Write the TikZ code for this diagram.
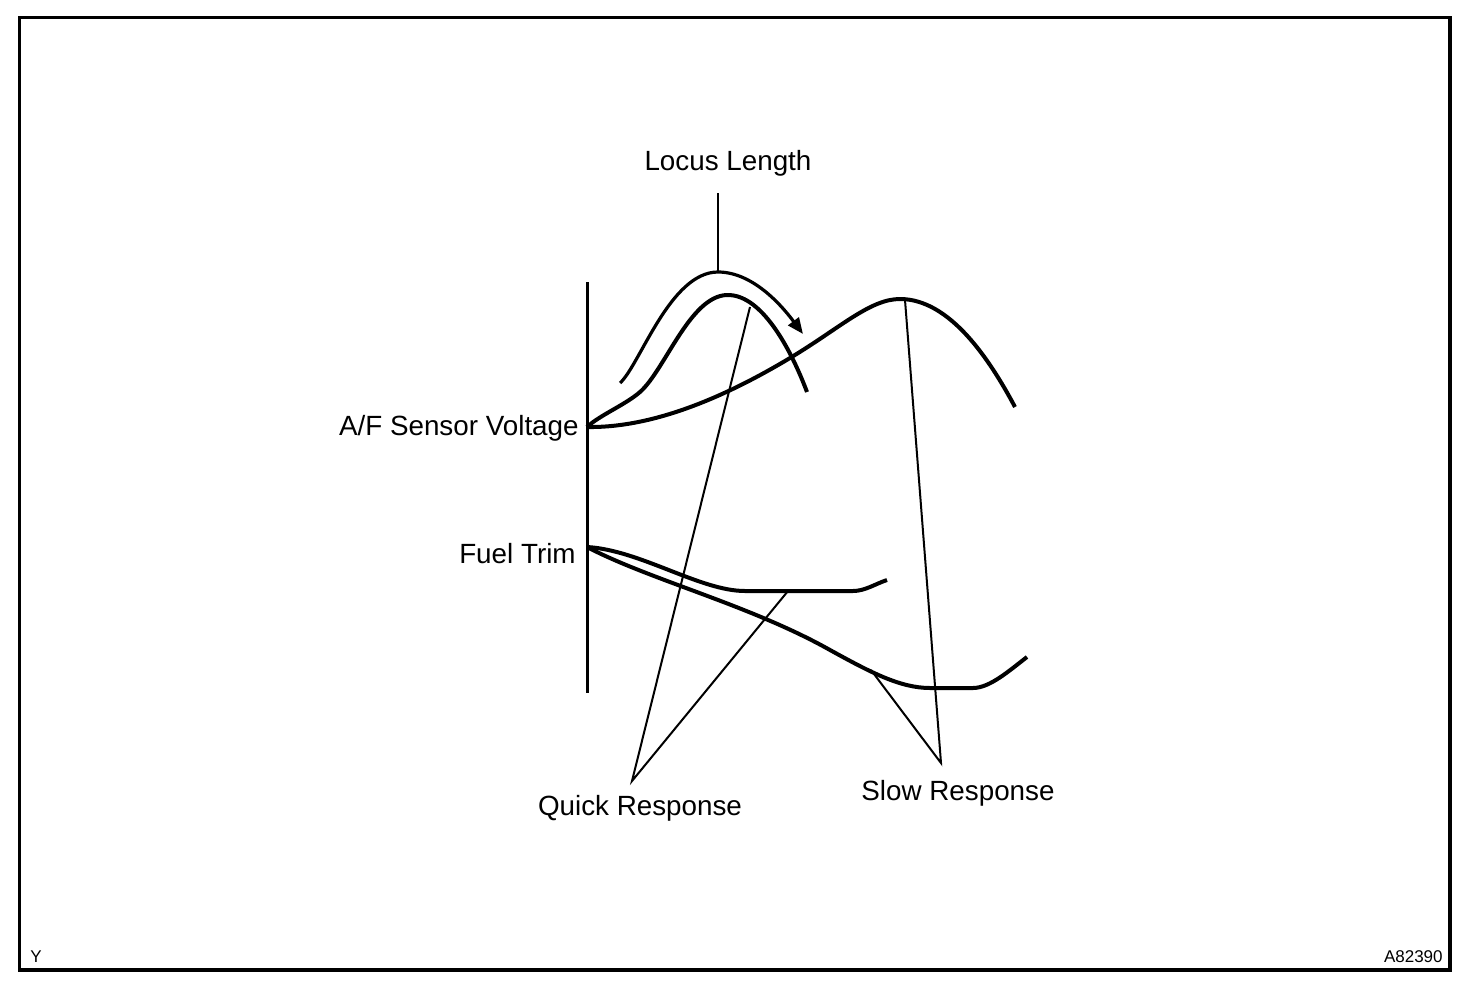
\documentclass[tikz,border=0pt]{standalone}
\usepackage{fontspec}
\setmainfont{Liberation Sans}
\usepackage{tikz}
\usetikzlibrary{positioning}
\usetikzlibrary{arrows.meta}
\usetikzlibrary{calc}

\begin{document}
\begin{tikzpicture}[x=0.5pt,y=-0.5pt,
  trace/.style={line width=2pt, line join=round},
  leader/.style={line width=1pt},
  lbl/.style={font=\fontsize{13.9}{16}\selectfont, inner sep=0pt},
  tag/.style={font=\fontsize{8.5}{10}\selectfont, inner sep=0pt}]

\useasboundingbox (0,0) rectangle (1472,980);
\draw[line width=1.6pt] (19.5,17.5) rectangle (1450,970);

% axis
\coordinate (top) at (587,282);
\coordinate (bot) at (587,693);
\draw[line width=1.5pt] (top) -- (bot);

% labels
\node[lbl, anchor=base] (locus) at (728,170) {Locus Length};
\node[lbl, anchor=base east] (afv) at (579,435) {A/F Sensor Voltage};
\node[lbl, anchor=base east] (trim) at (576,563) {Fuel Trim};
\node[lbl, anchor=base] (quick) at (640,815) {Quick Response};
\node[lbl, anchor=base] (slow) at (958,800) {Slow Response};

\node[tag, anchor=base] (y) at (36,962) {Y};
\node[tag, anchor=base east] (code) at (1443,962) {A82390};

% A/F sensor voltage
\coordinate (af0) at (587,427);
\draw[trace] (af0) .. controls (650,428) and (720,400) .. (790,358)
  .. controls (840,328) and (870,299) .. (900,299)
  .. controls (950,299) and (990,360) .. (1015,407);
\draw[trace] (af0) .. controls (600,415) and (625,405) .. (640,392)
  .. controls (665,370) and (690,296) .. (727,295)
  .. controls (765,294) and (795,360) .. (807,392);

% locus length arrow
\coordinate (tick) at (718,193);
\coordinate (arc) at (718,272);
\draw[line width=1.3pt] (tick) -- (arc);
\draw[line width=1.6pt, -{Triangle[length=8pt,width=6.5pt]}] (620,383)
  .. controls (640,365) and (670,272) .. (arc)
  .. controls (755,272) and (785,310) .. (803,334);

% fuel trim
\coordinate (ft0) at (587,547);
\draw[trace] (ft0) .. controls (640,550) and (700,591) .. (745,591) -- (853,591)
  .. controls (865,591) and (875,584) .. (887,580);
\draw[trace] (ft0) .. controls (650,580) and (750,605) .. (830,650)
  .. controls (870,672) and (900,688) .. (930,688) -- (973,688)
  .. controls (990,688) and (1010,670) .. (1027,657);

% leaders
\coordinate (qa) at (632,781);
\coordinate (sa) at (941,763);
\coordinate (qv) at (750,307);
\coordinate (qf) at (788,591);
\coordinate (sv) at (905,300);
\coordinate (sf) at (871,670);
\draw[leader] (qv) -- (qa) -- (qf);
\draw[leader] (sv) -- (sa) -- (sf);
\end{tikzpicture}
\end{document}
